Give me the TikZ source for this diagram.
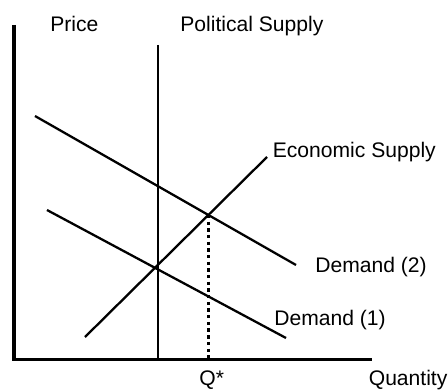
\documentclass[tikz,border=0pt]{standalone}
\usepackage{fontspec}
\setmainfont{Liberation Sans}
\usepackage{tikz}
\usetikzlibrary{calc}

\begin{document}
\begin{tikzpicture}[
    axisline/.style={line width=1.8pt},
    curveline/.style={line width=1.3pt},
    qline/.style={line width=1.8pt, dash pattern=on 1.9pt off 1.9pt},
    lbl/.style={anchor=base west, inner sep=0pt, font=\fontsize{12}{14}\selectfont}
  ]
  \useasboundingbox (0,0) rectangle (8.96,7.82);

  % Axes
  \coordinate (ytop) at (0.28, 7.32);
  \coordinate (orig) at (0.28, 0.63);
  \coordinate (xend) at (7.44, 0.63);
  \draw[axisline] (ytop) -- (orig) -- (xend);

  % Political supply
  \coordinate (pstop) at (3.16, 6.92);
  \coordinate (psbot) at (3.16, 0.63);
  \draw[curveline] (pstop) -- (psbot);

  % Economic supply
  \coordinate (esbot) at (1.70, 1.08);
  \coordinate (estop) at (5.34, 4.68);
  \draw[curveline] (esbot) -- (estop);

  % Demand curves
  \coordinate (dtwoa) at (0.70, 5.50);
  \coordinate (dtwob) at (5.92, 2.52);
  \draw[curveline] (dtwoa) -- (dtwob);
  \coordinate (donea) at (0.94, 3.62);
  \coordinate (doneb) at (5.72, 1.06);
  \draw[curveline] (donea) -- (doneb);

  % Equilibrium quantity
  \coordinate (eq) at (intersection of dtwoa--dtwob and esbot--estop);
  \coordinate (qstar) at (eq |- orig);
  \draw[qline] (eq) -- (qstar);

  % Labels
  \node[lbl] (price) at (1.00, 7.18) {Price};
  \node[lbl] (pslabel) at (3.60, 7.18) {Political Supply};
  \node[lbl] (eslabel) at (5.45, 4.68) {Economic Supply};
  \node[lbl] (dtwolabel) at (6.30, 2.37) {Demand (2)};
  \node[lbl] (donelabel) at (5.48, 1.32) {Demand (1)};
  \node[lbl] (qlabel) at (3.98, 0.11) {Q*};
  \node[lbl] (quantity) at (7.37, 0.11) {Quantity};
\end{tikzpicture}
\end{document}
